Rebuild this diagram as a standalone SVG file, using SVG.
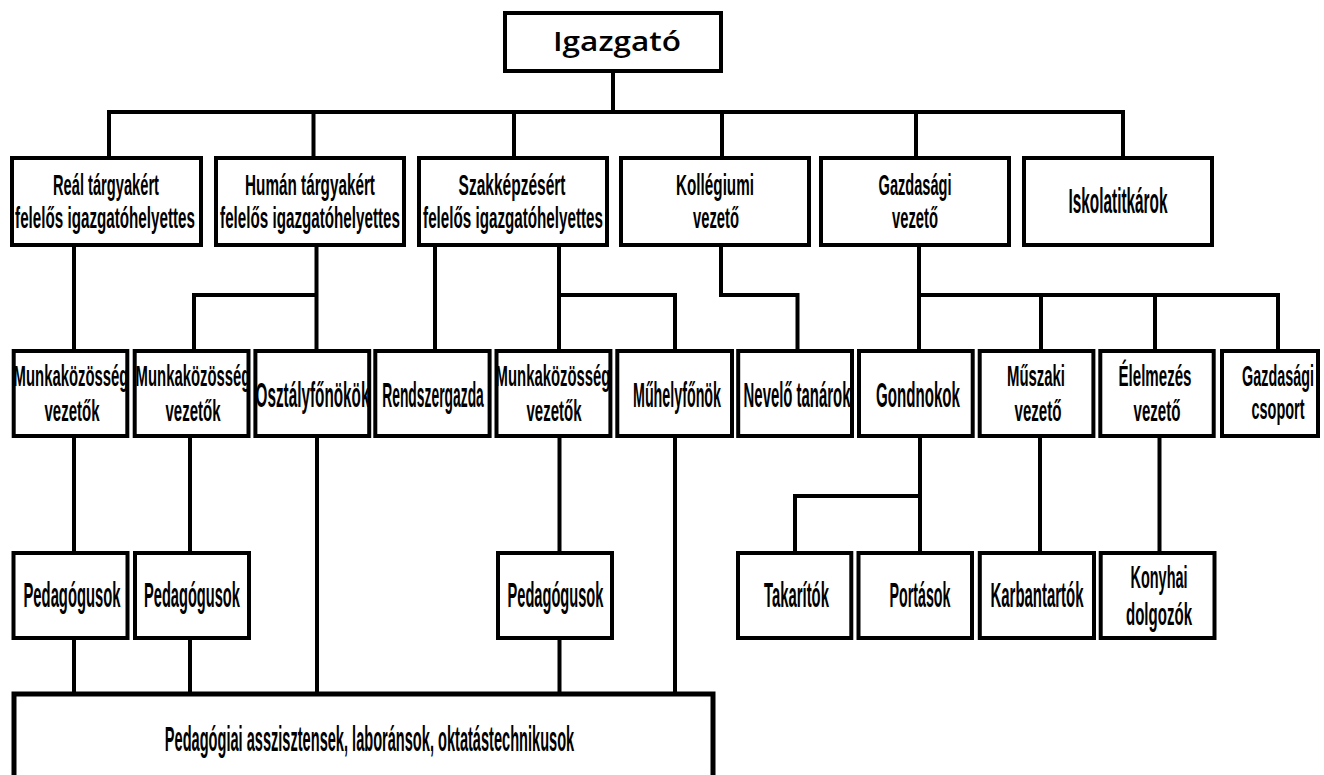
<svg xmlns="http://www.w3.org/2000/svg" width="1324" height="775" viewBox="0 0 1324 775">
<style>
rect.b{fill:#fff;stroke:#000;stroke-width:4}
#connectors path{fill:none;stroke:#000;stroke-width:4;stroke-linecap:square}
text{font-family:"Liberation Sans",Arial,sans-serif;fill:#000;text-anchor:middle;font-weight:bold}
.t2{font-size:29px}
.t1{font-size:35px}
.tk{font-size:32px}
.top{font-family:"Open Sans","Liberation Sans",sans-serif;font-weight:600;font-size:27px}
</style>
<rect width="1324" height="775" fill="#fff"/>
<g id="connectors">
<path d="M613,72V112M109,112H1123M109,112V156M313.5,112V156M514,112V156M722,112V156M916,112V156M1123,112V156"/>
<path d="M74,247V349"/>
<path d="M316.5,247V349M194,349V295H316.5"/>
<path d="M435,247V349M559,247V349M559,295H675V349"/>
<path d="M721,247V295H797.5V349"/>
<path d="M919,247V349M919,295H1278V349M1041,295V349M1155,295V349"/>
<path d="M74,438V551M190,438V551M317,438V691M559.5,438V551M675,438V691"/>
<path d="M920,438V551M920,496H795V551M1040,438V551M1159.5,438V551"/>
<path d="M74,640V691M190,640V691M559.5,640V691"/>
</g>
<g id="igazgato"><rect class="b" x="505" y="13" width="216" height="58"/><text class="top" x="617" y="51" textLength="128" lengthAdjust="spacingAndGlyphs">Igazgató</text></g>
<g id="real"><rect class="b" x="12" y="158" width="189" height="87"/><text class="t2" transform="translate(106 195) scale(0.506 1)">Reál tárgyakért</text><text class="t2" transform="translate(105 228) scale(0.524 1)">felelős igazgatóhelyettes</text></g>
<g id="human"><rect class="b" x="216" y="158" width="188" height="87"/><text class="t2" transform="translate(310 195) scale(0.527 1)">Humán tárgyakért</text><text class="t2" transform="translate(310 228) scale(0.524 1)">felelős igazgatóhelyettes</text></g>
<g id="szak"><rect class="b" x="419" y="158" width="188" height="87"/><text class="t2" transform="translate(512 195) scale(0.535 1)">Szakképzésért</text><text class="t2" transform="translate(513 228) scale(0.524 1)">felelős igazgatóhelyettes</text></g>
<g id="kollegiumi"><rect class="b" x="621" y="158" width="188" height="87"/><text class="t2" transform="translate(715 195) scale(0.526 1)">Kollégiumi</text><text class="t2" transform="translate(716 228) scale(0.51 1)">vezető</text></g>
<g id="gazdasagi"><rect class="b" x="821" y="158" width="188" height="87"/><text class="t2" transform="translate(915 195) scale(0.503 1)">Gazdasági</text><text class="t2" transform="translate(915 228) scale(0.51 1)">vezető</text></g>
<g id="iskolatitkarok"><rect class="b" x="1024" y="158" width="188" height="87"/><text class="t1" transform="translate(1118 213) scale(0.439 1)">Iskolatitkárok</text></g>
<g id="mk1"><rect class="b" x="13.7" y="351" width="113.6" height="85"/><text class="t2" transform="translate(71 386) scale(0.513 1)">Munkaközösség</text><text class="t2" transform="translate(72 421) scale(0.517 1)">vezetők</text></g>
<g id="mk2"><rect class="b" x="134.7" y="351" width="113.8" height="85"/><text class="t2" transform="translate(193 386) scale(0.513 1)">Munkaközösség</text><text class="t2" transform="translate(193 421) scale(0.517 1)">vezetők</text></g>
<g id="osztalyfonokok"><rect class="b" x="255.4" y="351" width="113.8" height="85"/><text class="t1" transform="translate(312.5 407) scale(0.437 1)">Osztályfőnökök</text></g>
<g id="rendszergazda"><rect class="b" x="375.3" y="351" width="114.3" height="85"/><text class="t1" transform="translate(433 407) scale(0.396 1)">Rendszergazda</text></g>
<g id="mk3"><rect class="b" x="496.5" y="351" width="113.9" height="85"/><text class="t2" transform="translate(553 386) scale(0.513 1)">Munkaközösség</text><text class="t2" transform="translate(554 421) scale(0.517 1)">vezetők</text></g>
<g id="muhelyfonok"><rect class="b" x="617.3" y="351" width="114.7" height="85"/><text class="t1" transform="translate(677 407) scale(0.408 1)">Műhelyfőnök</text></g>
<g id="nevelo"><rect class="b" x="738.2" y="351" width="113.8" height="85"/><text class="t1" transform="translate(797 407) scale(0.426 1)">Nevelő tanárok</text></g>
<g id="gondnokok"><rect class="b" x="859" y="351" width="113.7" height="85"/><text class="t1" transform="translate(918 407) scale(0.432 1)">Gondnokok</text></g>
<g id="muszaki"><rect class="b" x="979.7" y="351" width="113.7" height="85"/><text class="t2" transform="translate(1036 386) scale(0.514 1)">Műszaki</text><text class="t2" transform="translate(1038 421) scale(0.521 1)">vezető</text></g>
<g id="elelmezes"><rect class="b" x="1100.3" y="351" width="113.4" height="85"/><text class="t2" transform="translate(1155 386) scale(0.521 1)">Élelmezés</text><text class="t2" transform="translate(1157 421) scale(0.521 1)">vezető</text></g>
<g id="gazdasagi-csoport"><rect class="b" x="1222" y="351" width="96" height="85"/><text class="t2" transform="translate(1278 386) scale(0.496 1)">Gazdasági</text><text class="t2" transform="translate(1278 419) scale(0.499 1)">csoport</text></g>
<g id="ped1"><rect class="b" x="13.5" y="553" width="114" height="85"/><text class="t1" transform="translate(72 607) scale(0.423 1)">Pedagógusok</text></g>
<g id="ped2"><rect class="b" x="135" y="553" width="114" height="85"/><text class="t1" transform="translate(192 607) scale(0.418 1)">Pedagógusok</text></g>
<g id="ped3"><rect class="b" x="498" y="553" width="114" height="85"/><text class="t1" transform="translate(555.5 607) scale(0.418 1)">Pedagógusok</text></g>
<g id="takaritok"><rect class="b" x="738" y="553" width="113.3" height="85"/><text class="t1" transform="translate(796.5 607) scale(0.424 1)">Takarítók</text></g>
<g id="portasok"><rect class="b" x="858.5" y="553" width="113.5" height="85"/><text class="t1" transform="translate(920 607) scale(0.407 1)">Portások</text></g>
<g id="karbantartok"><rect class="b" x="979.8" y="553" width="114.2" height="85"/><text class="t1" transform="translate(1037 607) scale(0.427 1)">Karbantartók</text></g>
<g id="konyhai"><rect class="b" x="1100.7" y="553" width="113.8" height="85"/><text class="tk" transform="translate(1159 588) scale(0.452 1)">Konyhai</text><text class="tk" transform="translate(1159 625) scale(0.47 1)">dolgozók</text></g>
<g id="asszisztensek"><rect class="b" x="14" y="694" width="699" height="110" style="stroke-width:5"/><text class="t1" transform="translate(369.5 751) scale(0.417 1)">Pedagógiai asszisztensek, laboránsok, oktatástechnikusok</text></g>
</svg>
